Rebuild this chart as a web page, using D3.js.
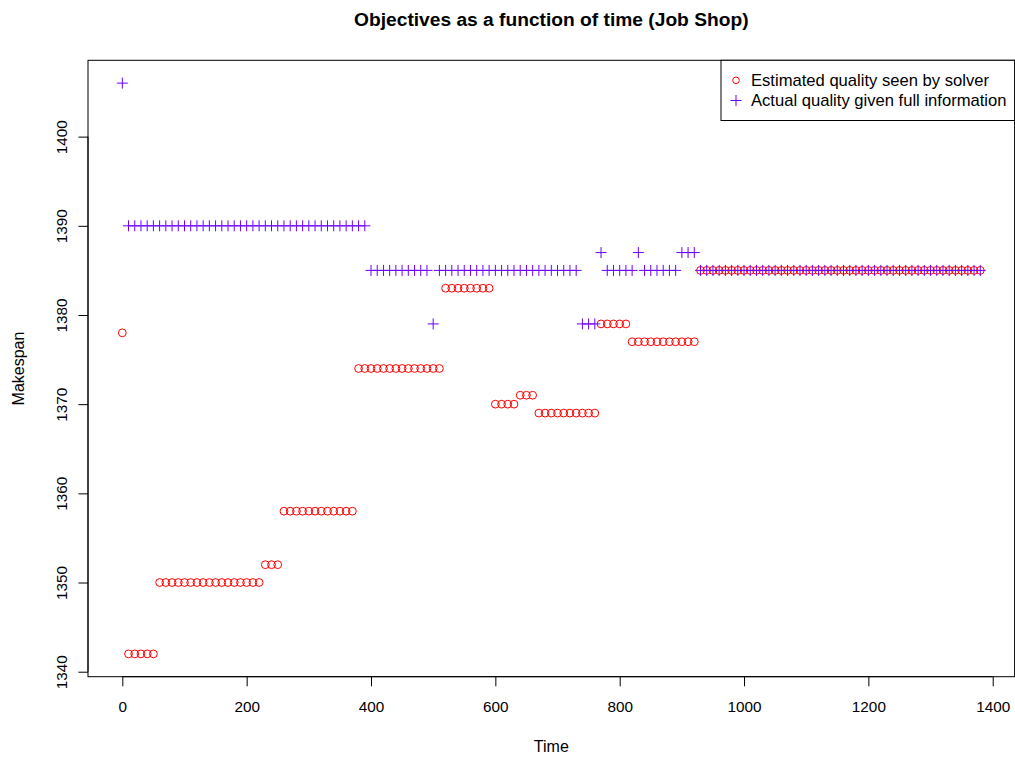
<!DOCTYPE html>
<html>
<head>
<meta charset="utf-8">
<script src="https://cdn.jsdelivr.net/npm/d3@7"></script>
<style>
  body { margin: 0; background: #fff; }
  svg text { font-family: "Liberation Sans", Arial, Helvetica, sans-serif; fill: #000; }
</style>
</head>
<body>
<div id="chart"></div>
<script>
// time (seconds) at which each solution was sampled
let time = [
  0, 10, 20, 30, 40, 50, 60, 70, 80, 90, 100, 110, 120, 130, 140, 150, 160, 170, 180, 190,
  200, 210, 220, 230, 240, 250, 260, 270, 280, 290, 300, 310, 320, 330, 340, 350, 360, 370, 380, 390,
  400, 410, 420, 430, 440, 450, 460, 470, 480, 490, 500, 510, 520, 530, 540, 550, 560, 570, 580, 590,
  600, 610, 620, 630, 640, 650, 660, 670, 680, 690, 700, 710, 720, 730, 740, 750, 760, 770, 780, 790,
  800, 810, 820, 830, 840, 850, 860, 870, 880, 890, 900, 910, 920, 930, 940, 950, 960, 970, 980, 990,
  1000, 1010, 1020, 1030, 1040, 1050, 1060, 1070, 1080, 1090, 1100, 1110, 1120, 1130, 1140, 1150, 1160, 1170, 1180, 1190,
  1200, 1210, 1220, 1230, 1240, 1250, 1260, 1270, 1280, 1290, 1300, 1310, 1320, 1330, 1340, 1350, 1360, 1370, 1380
];

// makespan the solver thinks it has
let estimated = [
  1378, 1342, 1342, 1342, 1342, 1342, 1350, 1350, 1350, 1350, 1350, 1350, 1350, 1350, 1350, 1350, 1350, 1350, 1350, 1350,
  1350, 1350, 1350, 1352, 1352, 1352, 1358, 1358, 1358, 1358, 1358, 1358, 1358, 1358, 1358, 1358, 1358, 1358, 1374, 1374,
  1374, 1374, 1374, 1374, 1374, 1374, 1374, 1374, 1374, 1374, 1374, 1374, 1383, 1383, 1383, 1383, 1383, 1383, 1383, 1383,
  1370, 1370, 1370, 1370, 1371, 1371, 1371, 1369, 1369, 1369, 1369, 1369, 1369, 1369, 1369, 1369, 1369, 1379, 1379, 1379,
  1379, 1379, 1377, 1377, 1377, 1377, 1377, 1377, 1377, 1377, 1377, 1377, 1377, 1385, 1385, 1385, 1385, 1385, 1385, 1385,
  1385, 1385, 1385, 1385, 1385, 1385, 1385, 1385, 1385, 1385, 1385, 1385, 1385, 1385, 1385, 1385, 1385, 1385, 1385, 1385,
  1385, 1385, 1385, 1385, 1385, 1385, 1385, 1385, 1385, 1385, 1385, 1385, 1385, 1385, 1385, 1385, 1385, 1385, 1385
];

// makespan with full information
let actual = [
  1406, 1390, 1390, 1390, 1390, 1390, 1390, 1390, 1390, 1390, 1390, 1390, 1390, 1390, 1390, 1390, 1390, 1390, 1390, 1390,
  1390, 1390, 1390, 1390, 1390, 1390, 1390, 1390, 1390, 1390, 1390, 1390, 1390, 1390, 1390, 1390, 1390, 1390, 1390, 1390,
  1385, 1385, 1385, 1385, 1385, 1385, 1385, 1385, 1385, 1385, 1379, 1385, 1385, 1385, 1385, 1385, 1385, 1385, 1385, 1385,
  1385, 1385, 1385, 1385, 1385, 1385, 1385, 1385, 1385, 1385, 1385, 1385, 1385, 1385, 1379, 1379, 1379, 1387, 1385, 1385,
  1385, 1385, 1385, 1387, 1385, 1385, 1385, 1385, 1385, 1385, 1387, 1387, 1387, 1385, 1385, 1385, 1385, 1385, 1385, 1385,
  1385, 1385, 1385, 1385, 1385, 1385, 1385, 1385, 1385, 1385, 1385, 1385, 1385, 1385, 1385, 1385, 1385, 1385, 1385, 1385,
  1385, 1385, 1385, 1385, 1385, 1385, 1385, 1385, 1385, 1385, 1385, 1385, 1385, 1385, 1385, 1385, 1385, 1385, 1385
];

let xTicks = [0, 200, 400, 600, 800, 1000, 1200, 1400];
let yTicks = [1340, 1350, 1360, 1370, 1380, 1390, 1400];
let seriesNames = ["Estimated quality seen by solver", "Actual quality given full information"];
let seriesColors = ["#ff0000", "#6a00ff"];

// dimensions
let width = 1015;
let height = 758;
let box = {left: 88, right: 1014.6, top: 60.3, bottom: 676.7};
let fontSize = 15.3;
let tickLen = 9.6;

let svg = d3.select("#chart").append("svg")
  .attr("width", width)
  .attr("height", height);

// R style axis range: data extent padded by 4%
function padded(ext) {
  let pad = (ext[1] - ext[0]) * 0.04;
  return [ext[0] - pad, ext[1] + pad];
}

let x = d3.scaleLinear()
  .domain(padded(d3.extent(time)))
  .range([box.left, box.right]);

let y = d3.scaleLinear()
  .domain(padded(d3.extent(estimated.concat(actual))))
  .range([box.bottom, box.top]);

// x axis
let xAxis = svg.append("g")
  .attr("transform", "translate(0," + box.bottom + ")")
  .call(d3.axisBottom(x).tickValues(xTicks).tickFormat(d3.format("d"))
    .tickSize(tickLen).tickPadding(14.8).tickSizeOuter(0));
xAxis.select(".domain").remove();
xAxis.append("line")
  .attr("x1", x(xTicks[0])).attr("x2", x(xTicks[xTicks.length - 1]))
  .attr("stroke", "#000");
xAxis.selectAll("text")
  .style("font-size", fontSize + "px")
  .style("font-family", "'Liberation Sans', Arial, sans-serif")
  .attr("fill", "#000");

// y axis, labels parallel to axis
let yAxis = svg.append("g")
  .attr("transform", "translate(" + box.left + ",0)")
  .call(d3.axisLeft(y).tickValues(yTicks).tickFormat(d3.format("d"))
    .tickSize(tickLen).tickSizeOuter(0));
yAxis.select(".domain").remove();
yAxis.append("line")
  .attr("y1", y(yTicks[0])).attr("y2", y(yTicks[yTicks.length - 1]))
  .attr("stroke", "#000");
yAxis.selectAll("text")
  .attr("x", 0)
  .attr("dy", null)
  .attr("transform", "translate(-21,0) rotate(-90)")
  .attr("text-anchor", "middle")
  .attr("fill", "#000")
  .style("font-size", fontSize + "px")
  .style("font-family", "'Liberation Sans', Arial, sans-serif");

// plot frame
svg.append("rect")
  .attr("x", box.left).attr("y", box.top)
  .attr("width", box.right - box.left).attr("height", box.bottom - box.top)
  .attr("fill", "none").attr("stroke", "#000");

// estimated points (circles)
svg.append("g").selectAll("circle")
  .data(time.map(function(t, i) { return [t, estimated[i]]; }))
  .enter().append("circle")
  .attr("cx", function(d) { return x(d[0]); })
  .attr("cy", function(d) { return y(d[1]); })
  .attr("r", 3.9)
  .attr("fill", "none")
  .attr("stroke", seriesColors[0]);

// actual points (plus signs)
let plus = 5.5;
svg.append("g").selectAll("path")
  .data(time.map(function(t, i) { return [t, actual[i]]; }))
  .enter().append("path")
  .attr("d", function(d) {
    let px = x(d[0]), py = y(d[1]);
    return "M" + (px - plus) + "," + py + "H" + (px + plus) + "M" + px + "," + (py - plus) + "V" + (py + plus);
  })
  .attr("fill", "none")
  .attr("stroke", seriesColors[1]);

// titles
svg.append("text")
  .attr("x", (box.left + box.right) / 2).attr("y", 26)
  .attr("text-anchor", "middle")
  .style("font-size", "19.2px").style("font-weight", "bold")
  .text("Objectives as a function of time (Job Shop)");

svg.append("text")
  .attr("x", (box.left + box.right) / 2).attr("y", 752)
  .attr("text-anchor", "middle")
  .style("font-size", "16px")
  .text("Time");

svg.append("text")
  .attr("transform", "translate(24," + ((box.top + box.bottom) / 2) + ") rotate(-90)")
  .attr("text-anchor", "middle")
  .style("font-size", "16px")
  .text("Makespan");

// legend, top right
let legend = svg.append("g");
legend.append("rect")
  .attr("x", 721).attr("y", box.top)
  .attr("width", box.right - 721).attr("height", 120.5 - box.top)
  .attr("fill", "#fff").attr("stroke", "#000");

let rows = [80.3, 100.5];
legend.append("circle")
  .attr("cx", 736).attr("cy", rows[0]).attr("r", 3.3)
  .attr("fill", "none").attr("stroke", seriesColors[0]);
legend.append("path")
  .attr("d", "M" + (736 - plus) + "," + rows[1] + "H" + (736 + plus) + "M736," + (rows[1] - plus) + "V" + (rows[1] + plus))
  .attr("stroke", seriesColors[1]);

seriesNames.forEach(function(name, i) {
  legend.append("text")
    .attr("x", 751).attr("y", rows[i] + 5.8)
    .style("font-size", "16.6px")
    .text(name);
});
</script>
</body>
</html>
